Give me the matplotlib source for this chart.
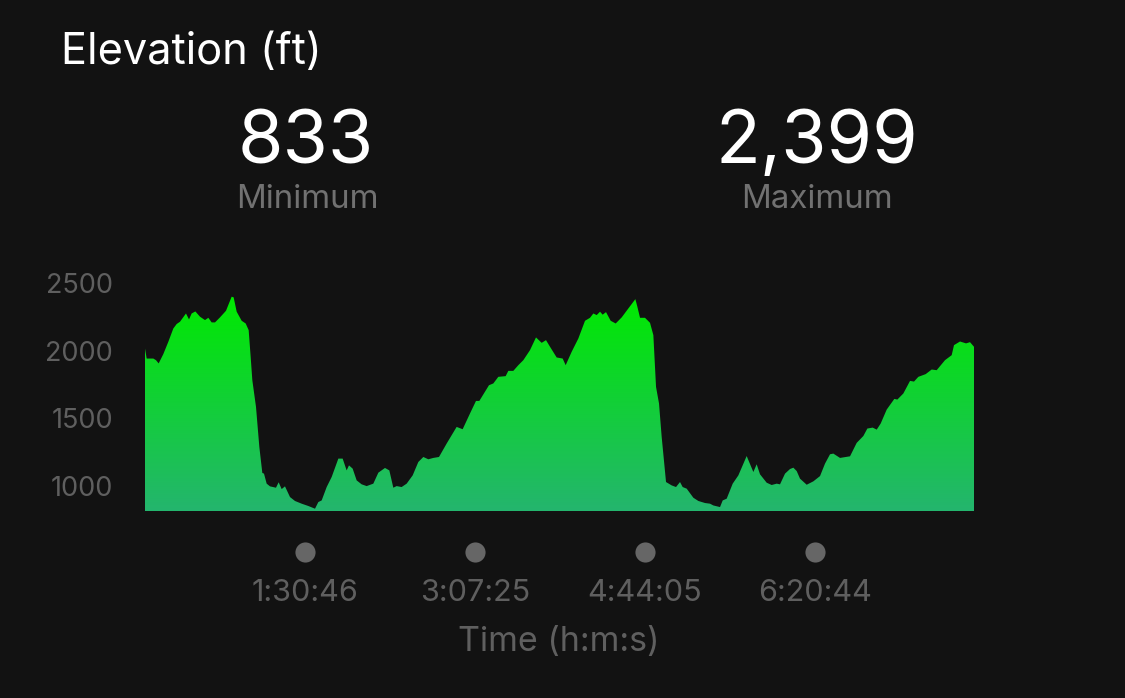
import numpy as np
import matplotlib
matplotlib.use('Agg')
import matplotlib.pyplot as plt
from matplotlib.colors import LinearSegmentedColormap
from matplotlib.patches import Polygon

# elapsed time in seconds, elevation in feet
elapsed = [
    0, 57, 284, 375, 466, 625, 796, 966, 1080, 1194, 1398, 1501, 1592, 1717, 1876, 2047,
    2160, 2274, 2388, 2558, 2763, 2956, 3024, 3127, 3297, 3434, 3536, 3604, 3661, 3786, 3900, 4002,
    4059, 4150, 4264, 4468, 4559, 4662, 4775, 4946, 5116, 5344, 5571, 5799, 5912, 6026, 6197, 6367,
    6595, 6742, 6878, 6958, 7083, 7220, 7390, 7561, 7788, 7959, 8186, 8334, 8470, 8584, 8754, 8925,
    9130, 9323, 9494, 9664, 9835, 10028, 10289, 10630, 10835, 11085, 11290, 11404, 11733, 11881, 12052, 12302,
    12393, 12563, 12734, 12905, 13132, 13337, 13530, 13678, 13815, 14042, 14247, 14349, 14554, 14781, 15009, 15179,
    15293, 15407, 15521, 15611, 15725, 15884, 16055, 16260, 16487, 16726, 16794, 16885, 17055, 17226, 17340, 17431,
    17533, 17624, 17772, 17965, 18113, 18249, 18340, 18477, 18704, 18875, 19102, 19273, 19386, 19614, 19705, 19841,
    20046, 20239, 20523, 20751, 20864, 20978, 21205, 21376, 21547, 21660, 21831, 22001, 22115, 22229, 22342, 22570,
    22797, 23025, 23195, 23366, 23479, 23707, 24048, 24275, 24503, 24639, 24821, 24958, 25094, 25299, 25560, 25662,
    25867, 26095, 26231, 26379, 26629, 26834, 27004, 27288, 27516, 27595, 27800, 28005, 28141, 28277,
]
elevation = [
    2016, 1942, 1942, 1930, 1906, 1975, 2066, 2164, 2197, 2214, 2275, 2231, 2275, 2290, 2251, 2226,
    2243, 2209, 2209, 2246, 2295, 2399, 2394, 2288, 2221, 2201, 2152, 1955, 1782, 1585, 1289, 1097,
    1092, 1018, 998, 988, 1028, 978, 998, 919, 890, 870, 853, 833, 882, 894, 993, 1067,
    1203, 1203, 1116, 1153, 1129, 1042, 1013, 1000, 1018, 1099, 1134, 1116, 988, 1000, 993, 1018,
    1079, 1178, 1215, 1198, 1208, 1215, 1314, 1437, 1420, 1536, 1629, 1629, 1745, 1758, 1807, 1812,
    1851, 1851, 1893, 1930, 2004, 2098, 2058, 2078, 2029, 1950, 1942, 1893, 1992, 2090, 2221, 2243,
    2275, 2263, 2288, 2266, 2285, 2221, 2201, 2246, 2312, 2381, 2325, 2243, 2243, 2206, 2115, 1733,
    1610, 1363, 1030, 1005, 993, 1030, 993, 981, 914, 890, 875, 870, 857, 845, 894, 907,
    1018, 1079, 1222, 1104, 1161, 1087, 1025, 1008, 1018, 1013, 1092, 1126, 1136, 1111, 1055, 1010,
    1035, 1074, 1166, 1235, 1240, 1208, 1220, 1319, 1370, 1425, 1432, 1417, 1462, 1565, 1644, 1639,
    1684, 1777, 1772, 1807, 1827, 1861, 1856, 1930, 1967, 2041, 2068, 2054, 2063, 2029,
]
y_ticks = [1000, 1500, 2000, 2500]
time_ticks = [5446, 11245, 17045, 22844]
time_labels = ['1:30:46', '3:07:25', '4:44:05', '6:20:44']

W, H = 1125, 698
BG = '#121212'
FONT = 'Inter'

fig = plt.figure(figsize=(W / 100, H / 100), dpi=100, facecolor=BG)
ax = fig.add_axes([145 / W, 1 - 511 / H, (974 - 145) / W, (511 - 283) / H], facecolor=BG)
for s in ax.spines.values():
    s.set_visible(False)

# green fade, done as an image clipped to the area under the profile
cmap = LinearSegmentedColormap.from_list('fade', ['#00ea00', '#24b56e'])
grad = np.linspace(0, 1, 256).reshape(-1, 1)
im = ax.imshow(grad, cmap=cmap, aspect='auto', extent=(0, elapsed[-1], 816, 2399), zorder=2)
outline = [(elapsed[0], 816)] + list(zip(elapsed, elevation)) + [(elapsed[-1], 816)]
clip = Polygon(outline, closed=True, transform=ax.transData, fc='none', ec='none')
ax.add_patch(clip)
im.set_clip_path(clip)
ax.set_xlim(0, elapsed[-1])
ax.set_ylim(816, 2500)

ax.set_yticks(y_ticks)
ax.set_yticklabels([str(v) for v in y_ticks], family=FONT, fontsize=19.5, color='#5f5f5f')
ax.set_xticks(time_ticks)
ax.set_xticklabels(time_labels, family=FONT, fontsize=22, color='#5f5f5f')
ax.tick_params(axis='both', length=0)
ax.tick_params(axis='y', pad=23)
ax.tick_params(axis='x', pad=49)

# round tick dots under the plot
ax.plot(time_ticks, [-41 / 228] * 4, 'o', ms=14.5, mec='none', color='#666666',
        transform=ax.get_xaxis_transform(), clip_on=False)

ax.set_xlabel('Time (h:m:s)', family=FONT, fontsize=24.5, color='#5f5f5f')
ax.xaxis.set_label_coords((558.5 - 145) / (974 - 145), -(642 - 511) / 228, transform=ax.transAxes)
ax.xaxis.label.set_va('center')


def put(x, y, txt, size, color, ha='center'):
    fig.text(x / W, 1 - y / H, txt, family=FONT, fontsize=size, color=color, ha=ha, va='center')


put(61, 53, 'Elevation (ft)', 31.2, 'white', ha='left')
put(306, 143.5, '833', 53, 'white')
put(307, 199, 'Minimum', 23.8, '#717171')
put(817, 143.5, '2,399', 53, 'white')
put(817, 199, 'Maximum', 23.8, '#717171')

fig.savefig('out.png', dpi=100, facecolor=BG)
